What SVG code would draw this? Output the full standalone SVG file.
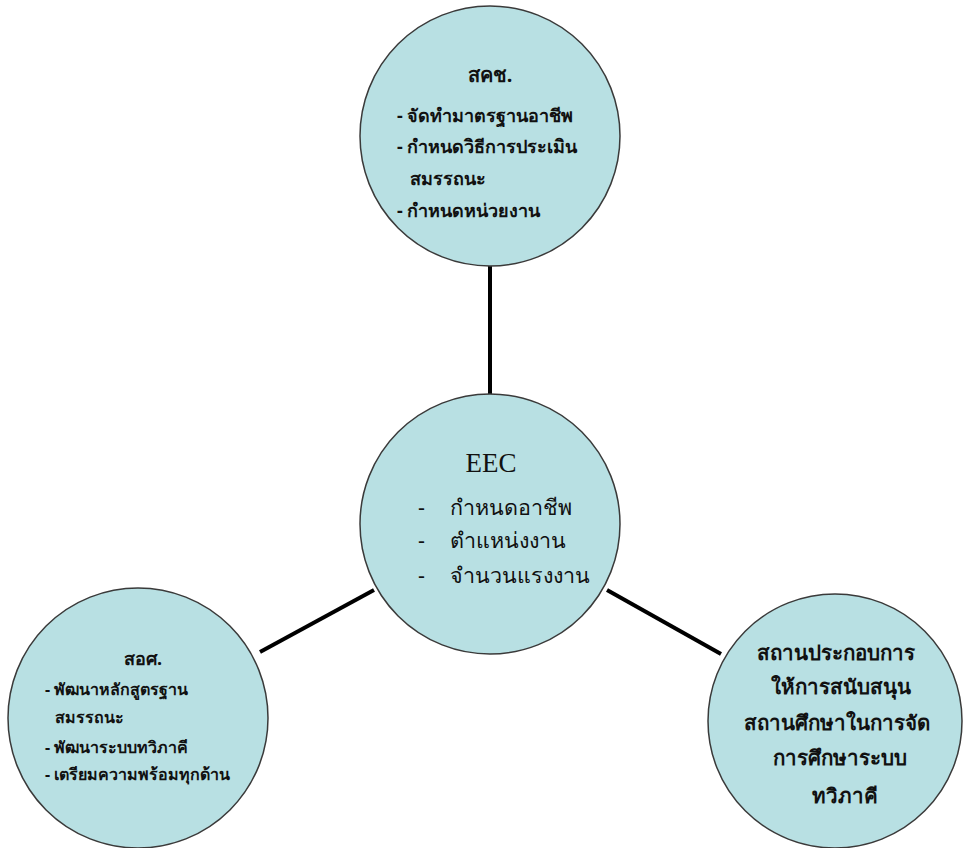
<svg xmlns="http://www.w3.org/2000/svg" width="964" height="848" viewBox="0 0 964 848">
<style>
.node{fill:#b8e0e3;stroke:#3a3a3a;stroke-width:1.5}
.conn{stroke:#000;stroke-width:4;fill:none}
.t{font-family:"Noto Sans","DejaVu Sans",sans-serif;fill:#111}
.b{font-weight:bold}
.c{text-anchor:middle}
.s18{font-size:18px}
.s16{font-size:16px}
.s21{font-size:21.5px}
.s20{font-size:20.5px}
.eec{font-family:"Liberation Serif","Times New Roman",serif;font-size:27px;fill:#111;text-anchor:middle}
</style>
<rect width="964" height="848" fill="#fff"/>
<g id="connectors">
<line class="conn" x1="490" y1="266" x2="490" y2="395"/>
<line class="conn" x1="260" y1="652" x2="374" y2="590"/>
<line class="conn" x1="607" y1="590" x2="721" y2="654"/>
</g>
<g id="node-top">
<circle class="node" cx="490" cy="136" r="130"/>
<text class="t b c" x="490" y="82" font-size="20">สคช.</text>
<text class="t b s18" x="397" y="122">- จัดทำมาตรฐานอาชีพ</text>
<text class="t b s18" x="397" y="153">- กำหนดวิธีการประเมิน</text>
<text class="t b s18" x="410" y="185">สมรรถนะ</text>
<text class="t b s18" x="397" y="217">- กำหนดหน่วยงาน</text>
</g>
<g id="node-center">
<circle class="node" cx="490" cy="524" r="130"/>
<text class="eec" x="491" y="472">EEC</text>
<text class="t s21" x="418" y="515">-</text>
<text class="t s21" x="450" y="515">กำหนดอาชีพ</text>
<text class="t s21" x="418" y="548">-</text>
<text class="t s21" x="450" y="548">ตำแหน่งงาน</text>
<text class="t s21" x="418" y="583">-</text>
<text class="t s21" x="450" y="583">จำนวนแรงงาน</text>
</g>
<g id="node-left">
<circle class="node" cx="138" cy="718" r="130"/>
<text class="t b c" x="143" y="665" font-size="18">สอศ.</text>
<text class="t b s16" x="45" y="695">- พัฒนาหลักสูตรฐาน</text>
<text class="t b s16" x="55" y="723">สมรรถนะ</text>
<text class="t b s16" x="45" y="753">- พัฒนาระบบทวิภาคี</text>
<text class="t b s16" x="45" y="780">- เตรียมความพร้อมทุกด้าน</text>
</g>
<g id="node-right">
<circle class="node" cx="835" cy="721" r="127"/>
<text class="t b c s20" x="836" y="660">สถานประกอบการ</text>
<text class="t b c s20" x="841" y="694">ให้การสนับสนุน</text>
<text class="t b c s20" x="837" y="730">สถานศึกษาในการจัด</text>
<text class="t b c s20" x="840" y="765">การศึกษาระบบ</text>
<text class="t b c s20" x="845" y="803">ทวิภาคี</text>
</g>
</svg>
